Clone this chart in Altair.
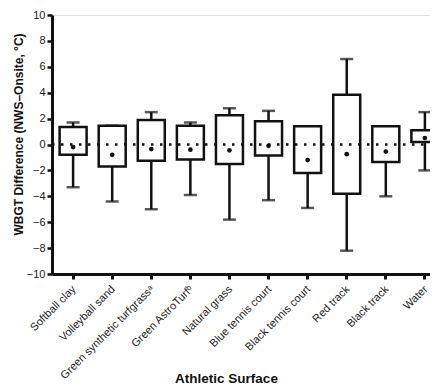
import altair as alt
import pandas as pd

categories = ["Softball clay", "Volleyball sand", "Green synthetic turfgrassᵃ",
              "Green AstroTurfᵇ", "Natural grass", "Blue tennis court",
              "Black tennis court", "Red track", "Black track", "Water"]
whisker_low = [-3.3, -4.4, -5.0, -3.9, -5.8, -4.3, -4.9, -8.2, -4.0, -2.0]
q1 = [-0.8, -1.7, -1.25, -1.15, -1.5, -0.85, -2.2, -3.8, -1.35, 0.2]
q3 = [1.35, 1.45, 1.9, 1.45, 2.25, 1.8, 1.4, 3.85, 1.4, 1.1]
whisker_high = [1.7, 1.45, 2.5, 1.7, 2.8, 2.6, 1.4, 6.6, 1.4, 2.5]
mean = [-0.2, -0.8, -0.35, -0.4, -0.45, -0.1, -1.2, -0.75, -0.55, 0.5]
y_ticks = [-10, -8, -6, -4, -2, 0, 2, 4, 6, 8, 10]

df = pd.DataFrame({"cat": categories, "lo": whisker_low, "q1": q1, "q3": q3,
                   "hi": whisker_high, "mean": mean})
zero = pd.DataFrame({"z": [0]})

x = alt.X("cat:N", sort=categories, title="Athletic Surface",
          scale=alt.Scale(paddingOuter=0.04, paddingInner=0, range=[0, 394]),
          axis=alt.Axis(labelAngle=-45, labelFontSize=11, labelColor="#222",
                        labelFont="Liberation Sans", titleFont="Liberation Sans",
                        titleFontSize=13.5, titleFontWeight="bold", titleColor="#111",
                        titleX=174, titleY=108, titleAnchor="middle",
                        titleBaseline="alphabetic", labelOffset=-3,
                        domainColor="#111", domainWidth=3, tickColor="#111",
                        tickWidth=3, tickSize=5, labelPadding=4))
yscale = alt.Scale(domain=[-10, 10], nice=False, zero=False)
yaxis = alt.Axis(values=y_ticks, labelFontSize=11, labelColor="#222",
                 labelFont="Liberation Sans", titleFont="Liberation Sans",
                 titleFontSize=12, titleFontWeight="bold", titleColor="#111",
                 titleX=-27, titleY=119, titleAnchor="middle",
                 domainColor="#111", domainWidth=3, tickColor="#111",
                 tickWidth=2.5, tickSize=5, grid=False, labelPadding=2,
                 labelOverlap=False)
YT = "WBGT Difference (NWS–Onsite, °C)"


def Y(field):
    return alt.Y(field, scale=yscale, axis=yaxis, title=YT)


base = alt.Chart(df)
whisk = base.mark_rule(color="#111", strokeWidth=2.5).encode(
    x=x, y=Y("lo:Q"), y2="hi:Q")
cap_lo = base.mark_tick(color="#111", size=13, thickness=2.5).encode(
    x=x, y=Y("lo:Q"))
cap_hi = base.mark_tick(color="#111", size=13, thickness=2.5).encode(
    x=x, y=Y("hi:Q"))
box = base.mark_bar(size=27, fill="white", stroke="#111", strokeWidth=2.5).encode(
    x=x, y=Y("q1:Q"), y2="q3:Q")
zline = alt.Chart(zero).mark_rule(color="#111", strokeWidth=2.5,
                                  strokeDash=[2.5, 6.5]).encode(
    y=Y("z:Q"), x=alt.value(0), x2=alt.value(394))
dots = base.mark_point(filled=True, color="#111", size=22, opacity=1).encode(
    x=x, y=Y("mean:Q"))

chart = alt.layer(whisk, cap_lo, cap_hi, box, zline, dots).properties(
    width=378, height=259,
    padding={"left": 44, "top": 7, "right": 0, "bottom": 110},
    autosize=alt.AutoSizeParams(type="none"),
).configure_view(stroke=None).configure(background="white")

chart.save("out.html", embed_options={"renderer": "svg", "actions": False})
